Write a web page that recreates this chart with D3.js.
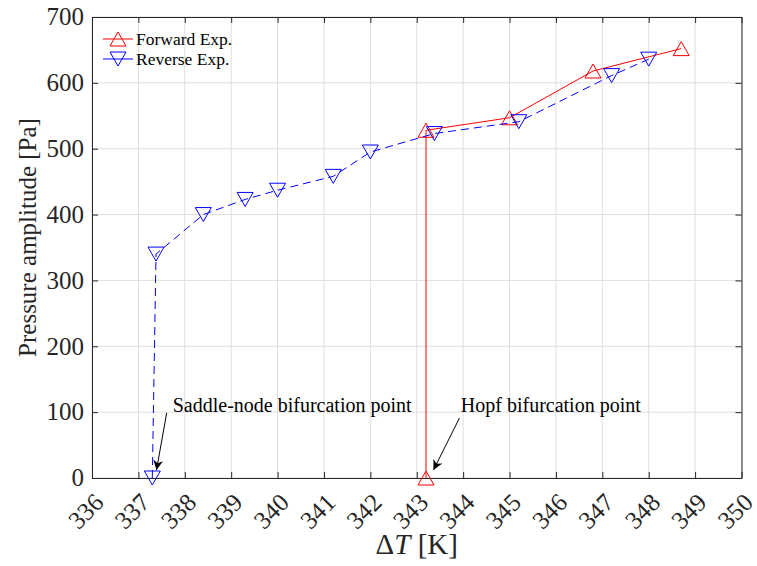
<!DOCTYPE html>
<html>
<head>
<meta charset="utf-8">
<script src="https://cdn.jsdelivr.net/npm/d3@7"></script>
<style>
  body { margin: 0; background: #fff; }
  svg text { font-family: "Liberation Serif", "Times New Roman", serif; fill: #262626; }
</style>
</head>
<body>
<svg id="chart" width="757" height="566"></svg>
<script>
// Forward experiment (increasing ΔT)
const forwardX = [343.2, 343.2, 345.0, 346.8, 348.7];
const forwardY = [0, 528, 547, 618, 652];

// Reverse experiment (decreasing ΔT)
const reverseX = [337.3, 337.38, 338.4, 339.3, 340.0, 341.2, 342.0, 343.38, 345.2, 347.2, 348.0];
const reverseY = [0, 340, 400, 423, 437, 458, 495, 523, 541, 611, 636];

const xTicks = d3.range(336, 351, 1);
const yTicks = d3.range(0, 701, 100);

// annotations in data units: text start, arrow tail, arrow head
const annotations = [
    { label: "Saddle-node bifurcation point", tx: 337.74, ty: 100, ax: 337.61, ay: 99, hx: 337.39, hy: 12 },
    { label: "Hopf bifurcation point", tx: 343.95, ty: 100, ax: 343.92, ay: 91, hx: 343.36, hy: 12 }
];

const margin = { left: 92, right: 757 - 741.5, top: 17, bottom: 566 - 478 };
const width = 757, height = 566;
const svg = d3.select("#chart");

const x = d3.scaleLinear().domain([336, 350]).range([margin.left, width - margin.right]);
const y = d3.scaleLinear().domain([0, 700]).range([height - margin.bottom, margin.top]);

const axisColor = "#262626";

// grid
const grid = svg.append("g");
grid.selectAll(".gx").data(xTicks).enter().append("line")
    .attr("x1", d => x(d)).attr("x2", d => x(d))
    .attr("y1", y(0)).attr("y2", y(700))
    .attr("stroke", "#dfdfdf").attr("stroke-width", 1);
grid.selectAll(".gy").data(yTicks).enter().append("line")
    .attr("y1", d => y(d)).attr("y2", d => y(d))
    .attr("x1", x(336)).attr("x2", x(350))
    .attr("stroke", "#dfdfdf").attr("stroke-width", 1);

// axes (inward ticks on all four sides)
const tickLen = 6;
const xAxisB = svg.append("g").attr("transform", `translate(0,${y(0)})`)
    .call(d3.axisBottom(x).tickValues(xTicks).tickSizeInner(-tickLen).tickSizeOuter(0).tickFormat(""));
const xAxisT = svg.append("g").attr("transform", `translate(0,${y(700)})`)
    .call(d3.axisTop(x).tickValues(xTicks).tickSizeInner(-tickLen).tickSizeOuter(0).tickFormat(""));
const yAxisL = svg.append("g").attr("transform", `translate(${x(336)},0)`)
    .call(d3.axisLeft(y).tickValues(yTicks).tickSizeInner(-tickLen).tickSizeOuter(0).tickFormat(""));
const yAxisR = svg.append("g").attr("transform", `translate(${x(350)},0)`)
    .call(d3.axisRight(y).tickValues(yTicks).tickSizeInner(-tickLen).tickSizeOuter(0).tickFormat(""));
[xAxisB, xAxisT, yAxisL, yAxisR].forEach(a => {
    a.selectAll("path, line").attr("stroke", axisColor).attr("stroke-width", 1);
});

// tick labels
svg.append("g").selectAll("text").data(xTicks).enter().append("text")
    .attr("transform", d => `translate(${x(d) + 13},${y(0) + 26}) rotate(-45)`)
    .attr("text-anchor", "end")
    .style("font-size", "25px")
    .text(d => d);
svg.append("g").selectAll("text").data(yTicks).enter().append("text")
    .attr("x", x(336) - 8).attr("y", d => y(d))
    .attr("dy", "0.33em")
    .attr("text-anchor", "end")
    .style("font-size", "25px")
    .text(d => d);

// axis titles
const xTitle = svg.append("text")
    .attr("x", (x(336) + x(350)) / 2).attr("y", 554)
    .attr("text-anchor", "middle")
    .style("font-size", "29px");
xTitle.append("tspan").text("Δ");
xTitle.append("tspan").style("font-style", "italic").text("T");
xTitle.append("tspan").text(" [K]");

svg.append("text")
    .attr("transform", `translate(36,${(y(0) + y(700)) / 2 - 10}) rotate(-90)`)
    .attr("text-anchor", "middle")
    .style("font-size", "25px")
    .text("Pressure amplitude [Pa]");

// series
const forward = forwardX.map((d, i) => ({ x: d, y: forwardY[i] }));
const reverse = reverseX.map((d, i) => ({ x: d, y: reverseY[i] }));

const line = d3.line().x(d => x(d.x)).y(d => y(d.y));

const triUp = "M0,-7L8,7L-8,7Z";
const triDown = "M0,7L8,-7L-8,-7Z";

function drawSeries(data, color, dash, shape) {
    const g = svg.append("g");
    g.append("path")
        .attr("d", line(data))
        .attr("fill", "none")
        .attr("stroke", color)
        .attr("stroke-width", 1)
        .attr("stroke-dasharray", dash);
    g.selectAll("path.marker").data(data).enter().append("path")
        .attr("class", "marker")
        .attr("d", shape)
        .attr("transform", d => `translate(${x(d.x)},${y(d.y)})`)
        .attr("fill", "none")
        .attr("stroke", color)
        .attr("stroke-width", 1);
}

drawSeries(forward, "#ff0000", null, triUp);
drawSeries(reverse, "#0000ff", "8,5", triDown);

// legend
const legendItems = [
    { label: "Forward Exp.", color: "#ff0000", shape: triUp },
    { label: "Reverse Exp.", color: "#0000ff", shape: triDown }
];
const legend = svg.append("g").attr("transform", "translate(103,39)");
legendItems.forEach((item, i) => {
    const row = legend.append("g").attr("transform", `translate(0,${i * 20})`);
    row.append("line").attr("x1", 0).attr("x2", 30)
        .attr("stroke", item.color).attr("stroke-width", 1);
    row.append("path").attr("d", item.shape).attr("transform", "translate(15,0)")
        .attr("fill", "none").attr("stroke", item.color);
    row.append("text").attr("x", 33).attr("dy", "0.33em")
        .style("font-size", "17.5px").style("fill", "#000")
        .text(item.label);
});

// arrowhead
svg.append("defs").append("marker")
    .attr("id", "arrow")
    .attr("viewBox", "0 0 10 10")
    .attr("refX", 10).attr("refY", 5)
    .attr("markerWidth", 10).attr("markerHeight", 10)
    .attr("markerUnits", "userSpaceOnUse")
    .attr("orient", "auto")
    .append("path").attr("d", "M0,0L10,5L0,10L3,5Z").attr("fill", "#000");

const ann = svg.append("g");
annotations.forEach(a => {
    ann.append("line")
        .attr("x1", x(a.ax)).attr("y1", y(a.ay))
        .attr("x2", x(a.hx)).attr("y2", y(a.hy))
        .attr("stroke", "#000").attr("stroke-width", 1)
        .attr("marker-end", "url(#arrow)");
    ann.append("text")
        .attr("x", x(a.tx)).attr("y", y(a.ty))
        .style("font-size", "20px").style("fill", "#000")
        .text(a.label);
});
</script>
</body>
</html>
